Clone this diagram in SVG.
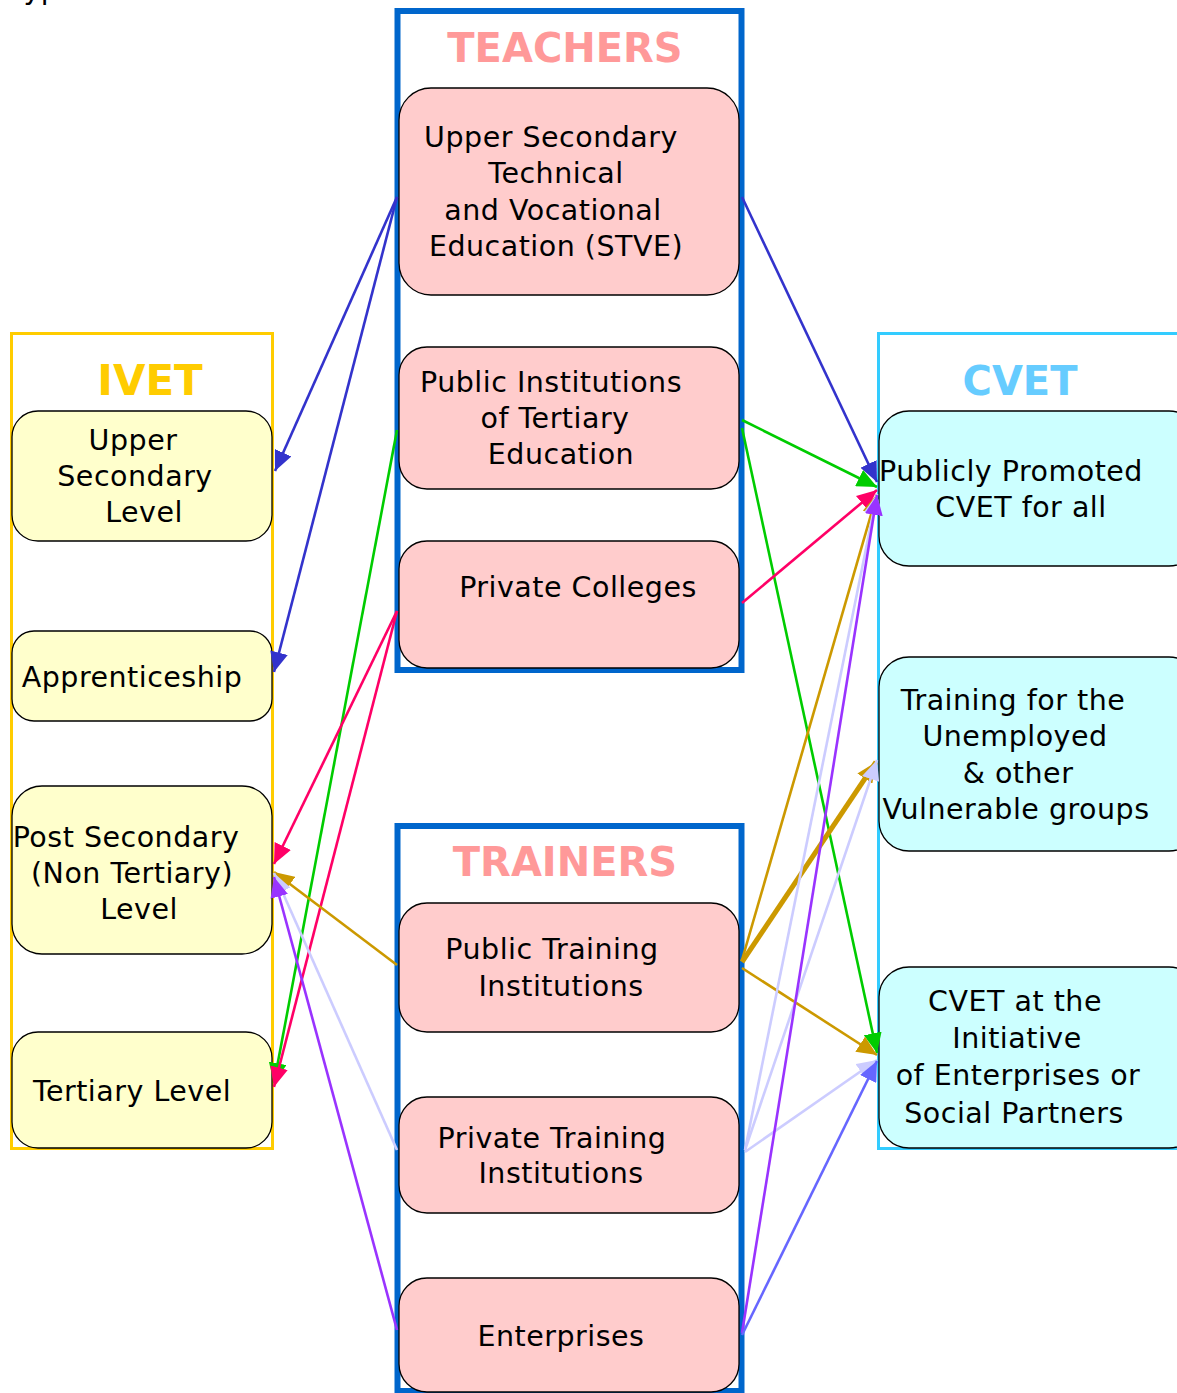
<svg xmlns="http://www.w3.org/2000/svg" width="1177" height="1393" viewBox="0 0 1177 1393">
<style>
text{font-family:"DejaVu Sans","Verdana",sans-serif;font-size:28.5px;letter-spacing:0.5px;fill:#000;text-anchor:middle}
.title{font-weight:bold;font-size:40px;letter-spacing:0}
.tn{fill:#FFCCCC;stroke:#000;stroke-width:1.3}
.iv{fill:#FFFFCC;stroke:#000;stroke-width:1.3}
.cv{fill:#CCFFFF;stroke:#000;stroke-width:1.3}
.c{fill:none;stroke-width:2.6}
</style>
<defs>
<marker id="mBlue" markerUnits="userSpaceOnUse" markerWidth="22" markerHeight="18" refX="20" refY="9" orient="auto"><path d="M0,0 L20,9 L0,18 z" fill="#3333CC"/></marker>
<marker id="mGreen" markerUnits="userSpaceOnUse" markerWidth="22" markerHeight="18" refX="20" refY="9" orient="auto"><path d="M0,0 L20,9 L0,18 z" fill="#00CC00"/></marker>
<marker id="mPink" markerUnits="userSpaceOnUse" markerWidth="22" markerHeight="18" refX="20" refY="9" orient="auto"><path d="M0,0 L20,9 L0,18 z" fill="#FF0066"/></marker>
<marker id="mGold" markerUnits="userSpaceOnUse" markerWidth="22" markerHeight="18" refX="20" refY="9" orient="auto"><path d="M0,0 L20,9 L0,18 z" fill="#CC9900"/></marker>
<marker id="mLav" markerUnits="userSpaceOnUse" markerWidth="22" markerHeight="18" refX="20" refY="9" orient="auto"><path d="M0,0 L20,9 L0,18 z" fill="#CCCCFF"/></marker>
<marker id="mPurple" markerUnits="userSpaceOnUse" markerWidth="22" markerHeight="18" refX="20" refY="9" orient="auto"><path d="M0,0 L20,9 L0,18 z" fill="#9933FF"/></marker>
<marker id="mViolet" markerUnits="userSpaceOnUse" markerWidth="22" markerHeight="18" refX="20" refY="9" orient="auto"><path d="M0,0 L20,9 L0,18 z" fill="#6666FF"/></marker>
</defs>
<rect width="1177" height="1393" fill="#fff"/>
<text x="10" y="-1" style="text-anchor:start">Typ</text>

<g id="teachers">
<rect x="397.5" y="11" width="344" height="659" fill="#fff" stroke="#0066CC" stroke-width="6"/>
<text class="title" x="565" y="62" style="fill:#FF9999">TEACHERS</text>
</g>
<g id="t-stve">
<rect class="tn" x="399" y="88" width="340" height="207" rx="32"/>
<text x="551" y="147">Upper Secondary</text>
<text x="556" y="183">Technical</text>
<text x="553" y="220">and Vocational</text>
<text x="556" y="256">Education (STVE)</text>
</g>
<g id="t-tertiary">
<rect class="tn" x="399" y="347" width="340" height="142" rx="28"/>
<text x="551" y="392">Public Institutions</text>
<text x="555" y="428">of Tertiary</text>
<text x="561" y="464">Education</text>
</g>
<g id="t-colleges">
<rect class="tn" x="399" y="541" width="340" height="127" rx="28"/>
<text x="578" y="597">Private Colleges</text>
</g>

<g id="trainers">
<rect x="397.5" y="826" width="344" height="565" fill="#fff" stroke="#0066CC" stroke-width="6"/>
<text class="title" x="565" y="876" style="fill:#FF9999">TRAINERS</text>
</g>
<g id="tr-public">
<rect class="tn" x="399" y="903" width="340" height="129" rx="28"/>
<text x="552" y="959">Public Training</text>
<text x="561" y="996">Institutions</text>
</g>
<g id="tr-private">
<rect class="tn" x="399" y="1097" width="340" height="116" rx="28"/>
<text x="552" y="1148">Private Training</text>
<text x="561" y="1183">Institutions</text>
</g>
<g id="tr-enterprises">
<rect class="tn" x="399" y="1278" width="340" height="114" rx="28"/>
<text x="561" y="1346">Enterprises</text>
</g>

<g id="ivet">
<rect x="11.5" y="333.5" width="261" height="815" fill="#fff" stroke="#FFCC00" stroke-width="3"/>
<text class="title" x="150" y="395" style="fill:#FFCC00;font-size:42px">IVET</text>
</g>
<g id="iv-upper">
<rect class="iv" x="12" y="411" width="260" height="130" rx="26"/>
<text x="133" y="450">Upper</text>
<text x="135" y="486">Secondary</text>
<text x="144" y="522">Level</text>
</g>
<g id="iv-appr">
<rect class="iv" x="12" y="631" width="260" height="90" rx="22"/>
<text x="132" y="687">Apprenticeship</text>
</g>
<g id="iv-post">
<rect class="iv" x="12" y="786" width="260" height="168" rx="30"/>
<text x="126" y="847">Post Secondary</text>
<text x="132" y="883">(Non Tertiary)</text>
<text x="139" y="919">Level</text>
</g>
<g id="iv-tertiary">
<rect class="iv" x="12" y="1032" width="260" height="116" rx="26"/>
<text x="132" y="1101">Tertiary Level</text>
</g>

<g id="cvet">
<rect x="878.5" y="333.5" width="320" height="815" fill="#fff" stroke="#33CCFF" stroke-width="3"/>
<text class="title" x="1020" y="395" style="fill:#66CCFF">CVET</text>
</g>
<g id="cv-public">
<rect class="cv" x="879" y="411" width="320" height="155" rx="30"/>
<text x="1011" y="481">Publicly Promoted</text>
<text x="1021" y="517">CVET for all</text>
</g>
<g id="cv-unemployed">
<rect class="cv" x="879" y="657" width="320" height="194" rx="30"/>
<text x="1013" y="710">Training for the</text>
<text x="1015" y="746">Unemployed</text>
<text x="1018" y="783">&amp; other</text>
<text x="1016" y="819">Vulnerable groups</text>
</g>
<g id="cv-enterprise">
<rect class="cv" x="879" y="967" width="320" height="181" rx="30"/>
<text x="1015" y="1011">CVET at the</text>
<text x="1017" y="1048">Initiative</text>
<text x="1018" y="1085">of Enterprises or</text>
<text x="1014" y="1123">Social Partners</text>
</g>

<g id="connectors">
<line class="c" x1="397" y1="197" x2="275" y2="471" stroke="#3333CC" marker-end="url(#mBlue)"/>
<line class="c" x1="397" y1="197" x2="274" y2="672" stroke="#3333CC" marker-end="url(#mBlue)"/>
<line class="c" x1="742" y1="197" x2="877" y2="482" stroke="#3333CC" marker-end="url(#mBlue)"/>
<line class="c" x1="397" y1="430" x2="274" y2="1083" stroke="#00CC00" marker-end="url(#mGreen)"/>
<line class="c" x1="742" y1="420" x2="877" y2="487" stroke="#00CC00" marker-end="url(#mGreen)"/>
<line class="c" x1="742" y1="428" x2="877" y2="1053" stroke="#00CC00" marker-end="url(#mGreen)"/>
<line class="c" x1="397" y1="611" x2="274" y2="864" stroke="#FF0066" marker-end="url(#mPink)"/>
<line class="c" x1="397" y1="611" x2="274" y2="1087" stroke="#FF0066" marker-end="url(#mPink)"/>
<line class="c" x1="742" y1="603" x2="877" y2="490" stroke="#FF0066" marker-end="url(#mPink)"/>
<line class="c" x1="397" y1="965" x2="274" y2="872" stroke="#CC9900" marker-end="url(#mGold)"/>
<line class="c" x1="742" y1="960" x2="877" y2="494" stroke="#CC9900" marker-end="url(#mGold)"/>
<line class="c" x1="742" y1="962" x2="876" y2="762" stroke="#CC9900" style="stroke-width:5" marker-end="url(#mGold)"/>
<line class="c" x1="742" y1="968" x2="877" y2="1055" stroke="#CC9900" marker-end="url(#mGold)"/>
<line class="c" x1="397" y1="1150" x2="274" y2="873" stroke="#CCCCFF" marker-end="url(#mLav)"/>
<line class="c" x1="745" y1="1150" x2="877" y2="494" stroke="#CCCCFF" marker-end="url(#mLav)"/>
<line class="c" x1="745" y1="1150" x2="877" y2="760" stroke="#CCCCFF" marker-end="url(#mLav)"/>
<line class="c" x1="745" y1="1152" x2="877" y2="1060" stroke="#CCCCFF" marker-end="url(#mLav)"/>
<line class="c" x1="397" y1="1330" x2="274" y2="877" stroke="#9933FF" marker-end="url(#mPurple)"/>
<line class="c" x1="742" y1="1333" x2="877" y2="495" stroke="#9933FF" marker-end="url(#mPurple)"/>
<line class="c" x1="742" y1="1335" x2="877" y2="1061" stroke="#6666FF" marker-end="url(#mViolet)"/>
</g>
</svg>
